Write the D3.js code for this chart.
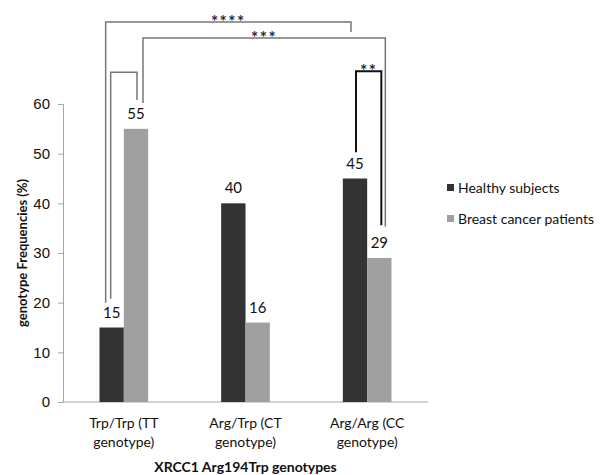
<!DOCTYPE html>
<html>
<head>
<meta charset="utf-8">
<script src="https://cdn.jsdelivr.net/npm/d3@7"></script>
<style>
  body { margin: 0; background: #fff; }
  svg { font-family: Lato, 'Open Sans', sans-serif; }
</style>
</head>
<body>
<div id="chart"></div>
<script>
// genotype groups and the two series (percent)
const categories = [['Trp/Trp (TT', 'genotype)'], ['Arg/Trp (CT', 'genotype)'], ['Arg/Arg (CC', 'genotype)']]
const seriesNames = ['Healthy subjects', 'Breast cancer patients']
const healthy = [15, 40, 45]
const cancer = [55, 16, 29]
const yTicks = [0, 10, 20, 30, 40, 50, 60]

// significance brackets: from [group, series] to [group, series], top level and leg ends in data units
const brackets = [
  { label: '****', from: [0, 0], to: [2, 0], top: 76.5, endA: 20, endB: 74.5, dxA: -6, dxB: -4, bold: false },
  { label: '***', from: [0, 1], to: [2, 1], top: 73.3, endA: 60.2, endB: 35.3, dxA: 7, dxB: 6, bold: false },
  { label: '', from: [0, 0], to: [0, 1], top: 66.4, endA: 20.8, endB: 60.8, dxA: -1, dxB: 1, bold: false },
  { label: '**', from: [2, 0], to: [2, 1], top: 66.6, endA: 50.3, endB: 35.6, dxA: 1, dxB: 2, bold: true }
]

const width = 600
const height = 475
const margin = { top: 104, right: 172, bottom: 73, left: 63 }

const svg = d3.select('#chart').append('svg')
  .attr('width', width)
  .attr('height', height)

const x = d3.scaleBand()
  .domain(d3.range(categories.length))
  .range([margin.left, width - margin.right])
  .paddingInner(0.6)
  .paddingOuter(0.3)

const xSub = d3.scaleBand()
  .domain([0, 1])
  .range([0, x.bandwidth()])

const y = d3.scaleLinear()
  .domain([0, 60])
  .range([height - margin.bottom, margin.top])

const colors = ['#333333', '#a0a0a0']

// axes
const gy = svg.append('g')
  .attr('transform', `translate(${margin.left},0)`)
  .call(d3.axisLeft(y).tickValues(yTicks).tickSize(5).tickPadding(8))
gy.select('.domain').attr('stroke', '#a6a6a6')
gy.selectAll('.tick line').attr('stroke', '#a6a6a6')
gy.selectAll('.tick text')
  .style('font-size', '15px')
  .attr('fill', '#111')

svg.append('line')
  .attr('x1', margin.left)
  .attr('x2', width - margin.right)
  .attr('y1', y(0))
  .attr('y2', y(0))
  .attr('stroke', '#a6a6a6')

// bars
const series = [healthy, cancer]
series.forEach((vals, s) => {
  svg.append('g').selectAll('rect')
    .data(vals)
    .join('rect')
    .attr('x', (d, i) => x(i) + xSub(s))
    .attr('y', d => y(d))
    .attr('width', xSub.bandwidth())
    .attr('height', d => y(0) - y(d))
    .attr('fill', colors[s])

  svg.append('g').selectAll('text')
    .data(vals)
    .join('text')
    .attr('x', (d, i) => x(i) + xSub(s) + xSub.bandwidth() / 2)
    .attr('y', d => y(d) - 10)
    .attr('text-anchor', 'middle')
    .style('font-size', '15px')
    .attr('fill', '#111')
    .text(d => d)
})

// category labels
const catG = svg.append('g')
categories.forEach((lines, i) => {
  const t = catG.append('text')
    .attr('x', x(i) + x.bandwidth() / 2)
    .attr('y', 428)
    .attr('text-anchor', 'middle')
    .style('font-size', '14px')
    .attr('fill', '#111')
  lines.forEach((l, k) => {
    t.append('tspan')
      .attr('x', x(i) + x.bandwidth() / 2)
      .attr('dy', k === 0 ? 0 : 19)
      .text(l)
  })
})

// axis titles
svg.append('text')
  .attr('x', (margin.left + width - margin.right) / 2)
  .attr('y', 472)
  .attr('text-anchor', 'middle')
  .style('font-size', '14px')
  .style('font-weight', 'bold')
  .attr('fill', '#111')
  .text('XRCC1 Arg194Trp genotypes')

svg.append('text')
  .attr('transform', `translate(27,${(y(0) + y(60)) / 2}) rotate(-90)`)
  .attr('text-anchor', 'middle')
  .style('font-size', '13px')
  .style('font-weight', 'bold')
  .attr('fill', '#111')
  .text('genotype Frequencies (%)')

// legend
const legend = svg.append('g').attr('transform', 'translate(447,0)')
seriesNames.forEach((name, i) => {
  const ly = 188 + i * 31
  legend.append('rect')
    .attr('x', 0)
    .attr('y', ly - 4)
    .attr('width', 7)
    .attr('height', 7)
    .attr('fill', colors[i])
  legend.append('text')
    .attr('x', 11)
    .attr('y', ly + 5)
    .style('font-size', '14px')
    .attr('fill', '#111')
    .text(name)
})

// significance brackets
const barCenter = ([g, s]) => x(g) + xSub(s) + xSub.bandwidth() / 2
brackets.forEach(b => {
  const xa = barCenter(b.from) + b.dxA
  const xb = barCenter(b.to) + b.dxB
  const path = d3.path()
  path.moveTo(xa, y(b.endA))
  path.lineTo(xa, y(b.top))
  path.lineTo(xb, y(b.top))
  path.lineTo(xb, y(b.endB))
  svg.append('path')
    .attr('d', path.toString())
    .attr('fill', 'none')
    .attr('stroke', b.bold ? '#111' : '#777')
    .attr('stroke-width', b.bold ? 2 : 1.5)
  if (b.label) {
    svg.append('text')
      .attr('x', (xa + xb) / 2)
      .attr('y', y(b.top) + 6)
      .attr('text-anchor', 'middle')
      .style('font-size', '17px')
      .style('font-weight', 'bold')
      .style('letter-spacing', '1.5px')
      .attr('fill', '#1f2a44')
      .text(b.label)
  }
})
</script>
</body>
</html>
